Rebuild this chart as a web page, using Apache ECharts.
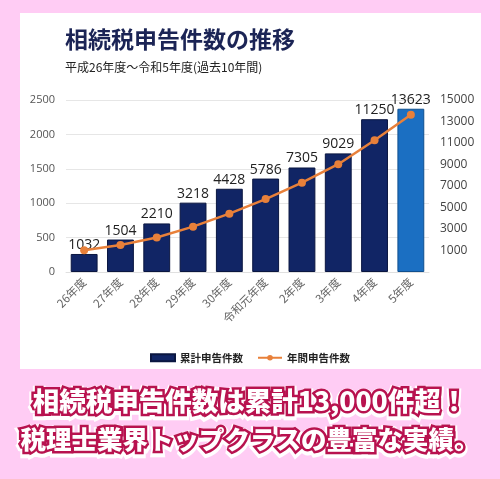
<!DOCTYPE html>
<html><head><meta charset="utf-8">
<script src="https://cdn.jsdelivr.net/npm/echarts@6/dist/echarts.min.js"></script>
<style>html,body{margin:0;padding:0;background:#ffccf4;}#c{width:500px;height:479px;}</style>
</head><body><div id="c"></div>
<script>
const categories = ['26年度','27年度','28年度','29年度','30年度','令和元年度','2年度','3年度','4年度','5年度'];
const annualBars = [262, 472, 706, 1008, 1210, 1358, 1519, 1724, 2221, 2373];
const cumulative = [1032, 1504, 2210, 3218, 4428, 5786, 7305, 9029, 11250, 13623];
const barName = '累計申告件数';
const lineName = '年間申告件数';
const titleText = '相続税申告件数の推移';
const subText = '平成26年度～令和5年度(過去10年間)';
const caption1 = '相続税申告件数は累計13,000件超！';
const caption2 = '税理士業界トップクラスの豊富な実績。';

const navy = '#112565', lightBlue = '#1b6fc2', orange = '#e8803a';
const chart = echarts.init(document.getElementById('c'));
function capText(txt, y, stroke, w, size) {
  return {type:'text', left:'center', top:y, z:100, style:{text:txt, font:'900 ' + size + 'px "Noto Sans CJK JP"', fill:'#ffffff', stroke:stroke, lineWidth:w}};
}
chart.setOption({
  backgroundColor:'#ffccf4',
  animation:false,
  graphic:[
    {type:'rect', shape:{x:20, y:13, width:461, height:356}, style:{fill:'#ffffff'}, z:-10},
    capText(caption1, 385, '#ffffff', 9, 26.5),
    capText(caption1, 385, '#b8124f', 5, 26.5),
    capText(caption2, 424, '#ffffff', 9, 25.5),
    capText(caption2, 424, '#b8124f', 5, 25.5)
  ],
  title:[
    {text:titleText, left:60, top:23, textStyle:{fontFamily:'Noto Sans CJK JP', fontSize:23, fontWeight:'bold', color:'#1b2455'}},
    {text:subText, left:60, top:56, textStyle:{fontFamily:'Noto Sans CJK JP', fontSize:12, fontWeight:'normal', color:'#222'}}
  ],
  legend:{
    bottom:111, left:'center', itemGap:14, itemWidth:24, itemHeight:7,
    textStyle:{fontFamily:'Noto Sans CJK JP', fontSize:10.5, fontWeight:'bold', color:'#222'},
    data:[{name:barName, icon:'rect'}, {name:lineName}]
  },
  grid:{left:66, right:71, top:100, height:172},
  xAxis:{
    type:'category', data:categories,
    axisLine:{show:true, lineStyle:{color:'#e0e0e0'}}, axisTick:{show:false},
    axisLabel:{rotate:45, color:'#666', fontSize:11.5, fontFamily:'Noto Sans CJK JP', margin:8}
  },
  yAxis:[
    {type:'value', min:0, max:2500, interval:500, position:'left',
     axisLabel:{color:'#555', fontSize:11, fontFamily:'Open Sans', margin:11, formatter:v=>String(v)},
     splitLine:{lineStyle:{color:'#e6e6e6'}}, axisLine:{show:false}, axisTick:{show:false}},
    {type:'value', min:-1000, max:15000, interval:2000, position:'right',
     axisLabel:{color:'#444', fontSize:12, fontFamily:'Open Sans', margin:11, formatter:v=> v<0 ? '' : String(v)},
     splitLine:{show:false}, axisLine:{show:false}, axisTick:{show:false}}
  ],
  series:[
    {name:barName, type:'bar', yAxisIndex:0, barWidth:'74%',
     itemStyle:{color:navy, borderColor:'#0a1640', borderWidth:1},
     data:annualBars.map((v,i)=>({value:v, itemStyle:{color: i===annualBars.length-1 ? lightBlue : navy, borderColor: i===annualBars.length-1 ? '#10508f' : '#0a1640', borderWidth:1}})),
     label:{show:true, position:'top', distance:2, color:'#222', fontSize:14, fontFamily:'Open Sans', formatter:p=>String(cumulative[p.dataIndex])}},
    {name:lineName, type:'line', yAxisIndex:1, data:cumulative, z:5,
     symbol:'circle', symbolSize:8, lineStyle:{color:orange, width:2.5}, itemStyle:{color:orange}}
  ]
});
</script></body></html>
